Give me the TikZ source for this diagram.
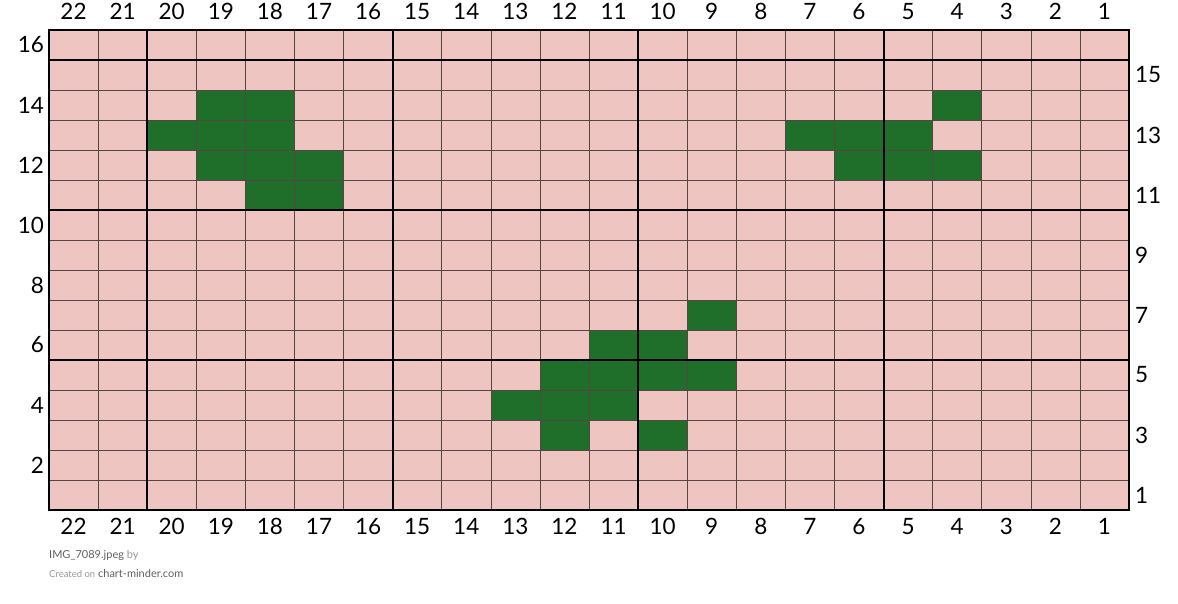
\documentclass[tikz,border=0pt]{standalone}
\usepackage{fontspec}
\setmainfont{Lato}
\usetikzlibrary{positioning}
\definecolor{cellpink}{RGB}{239,197,194}
\definecolor{cellgreen}{RGB}{31,110,42}
\definecolor{gridgray}{RGB}{85,70,70}
\definecolor{footdark}{RGB}{95,95,95}
\definecolor{footlight}{RGB}{150,150,150}

\begin{document}
\begin{tikzpicture}[x=49.09pt, y=30pt,
    colnum/.style={font=\fontsize{22.5}{22.5}\selectfont, inner sep=0pt},
    rownum/.style={font=\fontsize{22.5}{22.5}\selectfont, inner sep=0pt},
    foot/.style={font=\fontsize{11}{11}\selectfont, inner sep=0pt, anchor=west}]
    \useasboundingbox (-0.998,-3.1) rectangle (22.998,17);

    % background cells
    \fill[cellpink] (0,0) rectangle (22,16);

    % filled stitches (column / row, counted from bottom right)
    \foreach \c/\r in {19/14,18/14,4/14,
                       20/13,19/13,18/13,7/13,6/13,5/13,
                       19/12,18/12,17/12,6/12,5/12,4/12,
                       18/11,17/11,
                       9/7,
                       11/6,10/6,
                       12/5,11/5,10/5,9/5,
                       13/4,12/4,11/4,
                       12/3,10/3} {
        \fill[cellgreen] ({22-\c},{\r-1}) rectangle ++(1,1);
    }

    % thin grid
    \foreach \x in {1,...,21} {
        \draw[gridgray, line width=0.6pt] (\x,0) -- (\x,16);
    }
    \foreach \y in {1,...,15} {
        \draw[gridgray, line width=0.6pt] (0,\y) -- (22,\y);
    }

    % thick block lines
    \foreach \x in {2,7,12,17} {
        \draw[black, line width=1.9pt] (\x,0) -- (\x,16);
    }
    \foreach \y in {5,10,15} {
        \draw[black, line width=1.9pt] (0,\y) -- (22,\y);
    }
    \draw[black, line width=2.2pt] (0,0) rectangle (22,16);

    % column numbers, top and bottom
    \foreach \c in {1,...,22} {
        \node[colnum] (top-\c) at ({22.5-\c},16.62) {\c};
        \node[colnum] (bot-\c) at ({22.5-\c},-0.55) {\c};
    }

    % row numbers: even on the left, odd on the right
    \foreach \r in {2,4,...,16} {
        \node[rownum, anchor=east] (left-\r) at (-0.1,{\r-0.5}) {\r};
    }
    \foreach \r in {1,3,...,15} {
        \node[rownum, anchor=west] (right-\r) at (22.12,{\r-0.5}) {\r};
    }

    % footer
    \node[foot] (src) at (0,-1.5) {\textcolor{footdark}{IMG\_7089.jpeg} \textcolor{footlight}{by}};
    \node[foot] (made) at (0,-2.1) {\textcolor{footlight}{\fontsize{9.5}{9.5}\selectfont Created on} \textcolor{footdark}{chart-minder.com}};
\end{tikzpicture}
\end{document}
